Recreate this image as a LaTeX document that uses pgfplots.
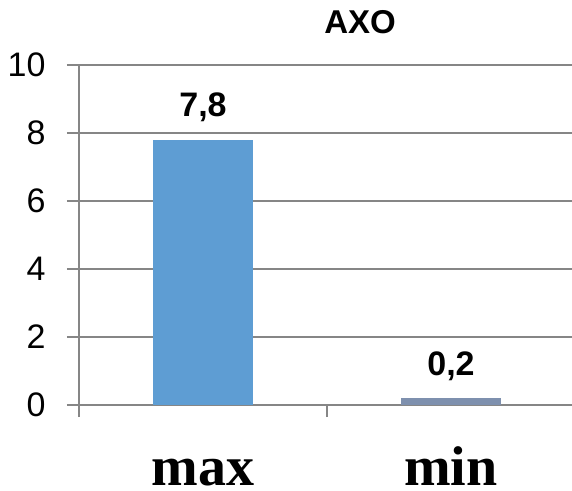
\documentclass[border=0pt]{standalone}
\usepackage{pgfplots}
\pgfplotsset{compat=1.18}
\usepackage{fontspec}
\setmainfont{Liberation Sans}
\newfontfamily\serifb{Liberation Serif}
\definecolor{barA}{RGB}{94,157,211}
\definecolor{barB}{RGB}{126,144,174}
\definecolor{axgray}{RGB}{134,134,134}
\begin{document}
\begin{tikzpicture}
\begin{axis}[
  scale only axis,
  width=493pt, height=340pt,
  xmin=-0.5, xmax=1.488,
  ymin=0, ymax=10,
  ytick={0,2,4,6,8,10},
  xtick={-0.5,0.5},
  xticklabels={},
  axis x line*=bottom,
  axis y line*=left,
  axis line style={draw=axgray, line width=1.3pt},
  ymajorgrids,
  grid style={draw=axgray, line width=1.3pt},
  tick style={draw=axgray, line width=1.3pt},
  tick align=outside,
  major tick length=12pt,
  /pgf/number format/assume math mode=true,
  yticklabel style={font=\fontsize{34}{38}\selectfont, xshift=-18pt},
  bar width=0.4,
  nodes near coords,
  nodes near coords style={/pgf/number format/use comma, /pgf/number format/fixed, /pgf/number format/fixed zerofill, /pgf/number format/precision=1, font=\fontsize{34}{38}\selectfont\bfseries, anchor=base, yshift=23pt},
  clip=false,
]
\addplot[ybar, fill=barA, draw=none] coordinates {(0,7.8)};
\addplot[ybar, fill=barB, draw=none] coordinates {(1,0.2)};
\node[anchor=base, inner sep=0pt, font=\serifb\fontsize{56}{60}\selectfont\bfseries] at (axis cs:0,0) [yshift=-80pt] {max};
\node[anchor=base, inner sep=0pt, font=\serifb\fontsize{56}{60}\selectfont\bfseries] at (axis cs:1,0) [yshift=-80pt] {min};
\node[anchor=base, font=\fontsize{33}{38}\selectfont\bfseries] at (rel axis cs:0.57,1) [yshift=31pt] {AXO};
\end{axis}
\pgfresetboundingbox
\path[use as bounding box] ([shift={(-79pt,-85pt)}]current axis.south west) rectangle ([shift={(0pt,65pt)}]current axis.north east);
\end{tikzpicture}
\end{document}
